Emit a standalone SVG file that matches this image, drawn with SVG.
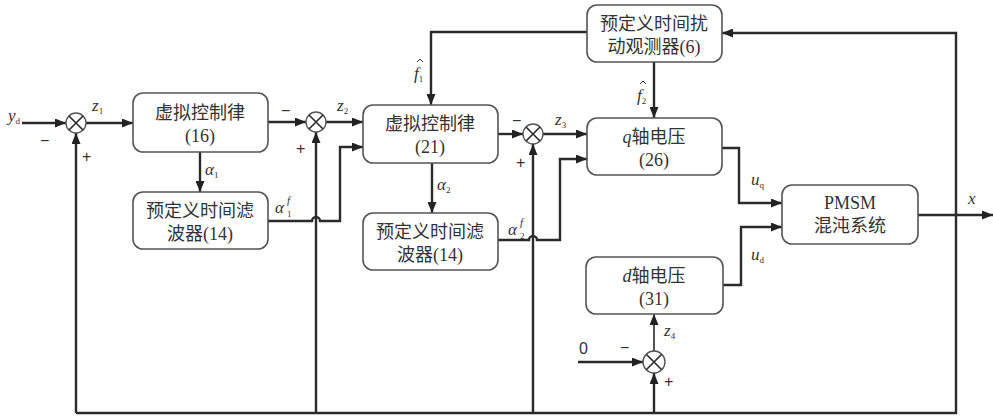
<svg xmlns="http://www.w3.org/2000/svg" width="993" height="416" viewBox="0 0 993 416">
<defs>
<marker id="ah" markerWidth="11" markerHeight="9" refX="11" refY="4.5" orient="auto" markerUnits="userSpaceOnUse"><path d="M0,0 L11,4.5 L0,9 z" fill="#222"/></marker>
<style>
.box{fill:#fff;stroke:#555;stroke-width:1.6}
.ln{fill:none;stroke:#2a2a2a;stroke-width:2.4}
.thin{fill:none;stroke:#2a2a2a;stroke-width:1.6}
.sum{fill:#fff;stroke:#555;stroke-width:1.4}
.hat{fill:none;stroke:#333;stroke-width:1}
.t{font-family:"Liberation Serif","Noto Sans CJK SC",serif;font-size:18px;fill:#333;text-anchor:middle}
.m{font-family:"Liberation Serif",serif;font-style:italic;font-size:17px;fill:#333}
.s{font-size:9px;font-style:normal}
.sup{font-family:"Liberation Serif",serif;font-style:italic;font-size:11px;fill:#333}
.sg{font-family:"Liberation Sans",sans-serif;font-size:16px;fill:#333}
</style>
</defs>
<rect width="993" height="416" fill="#fff"/>

<g id="connectors">
<path class="ln" d="M22,123 H66" marker-end="url(#ah)"/>
<path class="ln" d="M86,123 H133" marker-end="url(#ah)"/>
<path class="ln" d="M268,122 H306" marker-end="url(#ah)"/>
<path class="ln" d="M326,122 H363" marker-end="url(#ah)"/>
<path class="ln" d="M200,152 V192" marker-end="url(#ah)"/>
<path class="ln" d="M268,221 H312 A4,4 0 0 1 320,221 H340 V147 H363" marker-end="url(#ah)"/>
<path class="ln" d="M498,134 H523" marker-end="url(#ah)"/>
<path class="ln" d="M543,134 H587" marker-end="url(#ah)"/>
<path class="ln" d="M432,163 V213" marker-end="url(#ah)"/>
<path class="ln" d="M498,240 H529 A4,4 0 0 1 537,240 H560 V159 H587" marker-end="url(#ah)"/>
<path class="ln" d="M587,32 H431 V105" marker-end="url(#ah)"/>
<path class="ln" d="M654,62 V118" marker-end="url(#ah)"/>
<path class="ln" d="M722,148 H739 V203 H782" marker-end="url(#ah)"/>
<path class="ln" d="M723,285 H741 V227 H782" marker-end="url(#ah)"/>
<path class="ln" d="M918,215 H993" marker-end="url(#ah)"/>
<path class="ln" d="M76,413 H956 V33 H722" marker-end="url(#ah)"/>
<path class="ln" d="M76,413 V133" marker-end="url(#ah)"/>
<path class="ln" d="M316,413 V132" marker-end="url(#ah)"/>
<path class="ln" d="M533,413 V144" marker-end="url(#ah)"/>
<path class="ln" d="M654,413 V373" marker-end="url(#ah)"/>
<path class="ln" d="M578,362 H643" marker-end="url(#ah)"/>
<path class="thin" d="M654,351 V314" marker-end="url(#ah)"/>
</g>

<g id="sum1"><circle class="sum" cx="76" cy="123" r="10"/><path class="thin" stroke-width="1.2" d="M69,116 L83,130 M83,116 L69,130"/></g>
<g id="sum2"><circle class="sum" cx="316" cy="122" r="10"/><path class="thin" stroke-width="1.2" d="M309,115 L323,129 M323,115 L309,129"/></g>
<g id="sum3"><circle class="sum" cx="533" cy="134" r="10"/><path class="thin" stroke-width="1.2" d="M526,127 L540,141 M540,127 L526,141"/></g>
<g id="sum4"><circle class="sum" cx="654" cy="362" r="11"/><path class="thin" stroke-width="1.2" d="M646.5,354.5 L661.5,369.5 M661.5,354.5 L646.5,369.5"/></g>

<g id="box1"><rect class="box" x="133" y="93" width="135" height="59" rx="10"/>
<text class="t" x="200" y="119">虚拟控制律</text><text class="t" x="200" y="142">(16)</text></g>
<g id="filter1"><rect class="box" x="133" y="192" width="135" height="57" rx="10"/>
<text class="t" x="200" y="217">预定义时间滤</text><text class="t" x="200" y="240">波器(14)</text></g>
<g id="box3"><rect class="box" x="363" y="105" width="135" height="58" rx="10"/>
<text class="t" x="430" y="130">虚拟控制律</text><text class="t" x="430" y="153">(21)</text></g>
<g id="filter2"><rect class="box" x="363" y="213" width="135" height="57" rx="10"/>
<text class="t" x="430" y="238">预定义时间滤</text><text class="t" x="430" y="261">波器(14)</text></g>
<g id="observer"><rect class="box" x="587" y="5" width="135" height="57" rx="10"/>
<text class="t" x="654" y="30">预定义时间扰</text><text class="t" x="654" y="53">动观测器(6)</text></g>
<g id="qbox"><rect class="box" x="587" y="118" width="135" height="57" rx="10"/>
<text class="t" x="654" y="143"><tspan font-style="italic">q</tspan>轴电压</text><text class="t" x="654" y="166">(26)</text></g>
<g id="dbox"><rect class="box" x="586" y="257" width="137" height="57" rx="10"/>
<text class="t" x="654" y="282"><tspan font-style="italic">d</tspan>轴电压</text><text class="t" x="654" y="305">(31)</text></g>
<g id="pmsm"><rect class="box" x="782" y="185" width="136" height="59" rx="10"/>
<text class="t" x="850" y="209">PMSM</text><text class="t" x="850" y="232">混沌系统</text></g>

<g id="labels">
<text class="m" x="8" y="121">y<tspan class="s" dy="3">d</tspan></text>
<text class="sg" x="40" y="146">−</text>
<text class="sg" x="82" y="162">+</text>
<text class="m" x="92" y="111">z<tspan class="s" dy="3">1</tspan></text>
<text class="sg" x="281" y="116">−</text>
<text class="sg" x="296" y="154">+</text>
<text class="m" x="337" y="111">z<tspan class="s" dy="3">2</tspan></text>
<text class="sg" x="512" y="126">−</text>
<text class="sg" x="516" y="168">+</text>
<text class="m" x="555" y="125">z<tspan class="s" dy="3">3</tspan></text>
<text class="m" x="205" y="175">α<tspan class="s" dy="3">1</tspan></text>
<text class="m" x="437" y="190">α<tspan class="s" dy="3">2</tspan></text>
<text class="m" x="275" y="213">α</text><text class="sup" x="287" y="204">f</text><text class="m s" x="287" y="217">1</text>
<text class="m" x="508" y="235">α</text><text class="sup" x="520" y="226">f</text><text class="m s" x="520" y="239">2</text>
<text class="m" x="414" y="79">f<tspan class="s" dy="3">1</tspan></text><path class="hat" d="M417,62 L420,59 L423,62"/>
<text class="m" x="637" y="101">f<tspan class="s" dy="3">2</tspan></text><path class="hat" d="M640,84 L643,81 L646,84"/>
<text class="m" x="751" y="185">u<tspan class="s" dy="3">q</tspan></text>
<text class="m" x="751" y="260">u<tspan class="s" dy="3">d</tspan></text>
<text class="m" x="968" y="204">x</text>
<text class="sg" x="579" y="354" font-family="Liberation Serif">0</text>
<text class="sg" x="620" y="353">−</text>
<text class="sg" x="664" y="387">+</text>
<text class="m" x="664" y="336">z<tspan class="s" dy="3">4</tspan></text>
</g>
</svg>
